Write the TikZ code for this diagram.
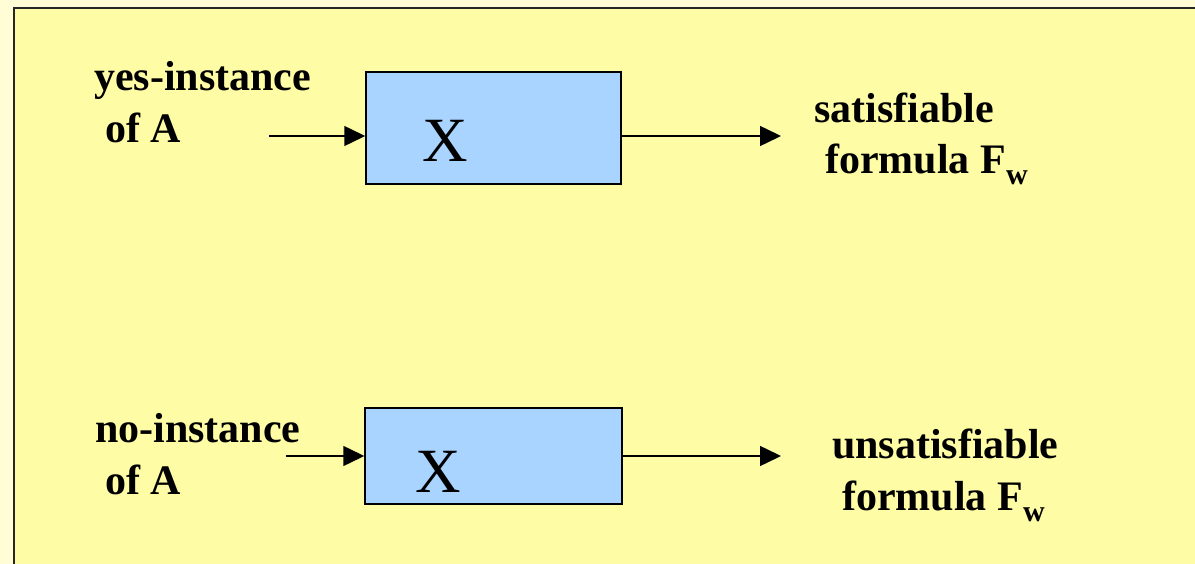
\documentclass[tikz,border=0pt]{standalone}
\usepackage{fontspec}
\setmainfont{Liberation Serif}
\usetikzlibrary{arrows.meta}
\definecolor{outerbg}{HTML}{FFFDD6}
\definecolor{innerbg}{HTML}{FFFCA6}
\definecolor{boxblue}{HTML}{A8D4FF}
\tikzset{
  lbl/.style={anchor=base west,inner sep=0pt,font=\bfseries\fontsize{42}{52}\selectfont},
  xlbl/.style={anchor=base west,inner sep=0pt,font=\fontsize{63}{70}\selectfont},
  procbox/.style={draw=black,line width=1.5pt,fill=boxblue,inner sep=0pt},
  arr/.style={draw=black,line width=1.5pt,-{Triangle[length=21pt,width=20pt]}}
}
\newcommand{\subw}{\raisebox{-11pt}{\fontsize{30}{30}\selectfont w}}
\begin{document}
\begin{tikzpicture}[x=1pt,y=-1pt]
\useasboundingbox (0,0) rectangle (1195,564);
\fill[outerbg] (0,0) rectangle (1195,564);
\clip (0,0) rectangle (1195,564);
\draw[fill=innerbg,line width=2pt,draw=black!85] (13.5,8.5) rectangle (1210,580);
% boxes
\node[procbox,minimum width=255pt,minimum height=112pt] (boxA) at (493.5,128) {};
\node[procbox,minimum width=257pt,minimum height=96pt] (boxB) at (493.5,456) {};
\node[xlbl] (xA) at (422,162) {X};
\node[xlbl] (xB) at (415,492) {X};
% labels
\node[lbl] (yes1) at (94,91) {yes-instance};
\node[lbl] (yes2) at (105,143) {of A};
\node[lbl] (sat1) at (814,123) {satisfiable};
\node[lbl] (sat2) at (825,174) {formula F\subw};
\node[lbl] (no1) at (95,442) {no-instance};
\node[lbl] (no2) at (105,494) {of A};
\node[lbl] (uns1) at (832,458) {unsatisfiable};
\node[lbl] (uns2) at (842,510) {formula F\subw};
% connectors
\coordinate (inA) at (269,136);
\coordinate (outA) at (781,136);
\coordinate (inB) at (286,456);
\coordinate (outB) at (781,456);
\draw[arr] (inA) -- (inA -| boxA.west);
\draw[arr] (outA -| boxA.east) -- (outA);
\draw[arr] (inB) -- (inB -| boxB.west);
\draw[arr] (outB -| boxB.east) -- (outB);
\end{tikzpicture}
\end{document}
